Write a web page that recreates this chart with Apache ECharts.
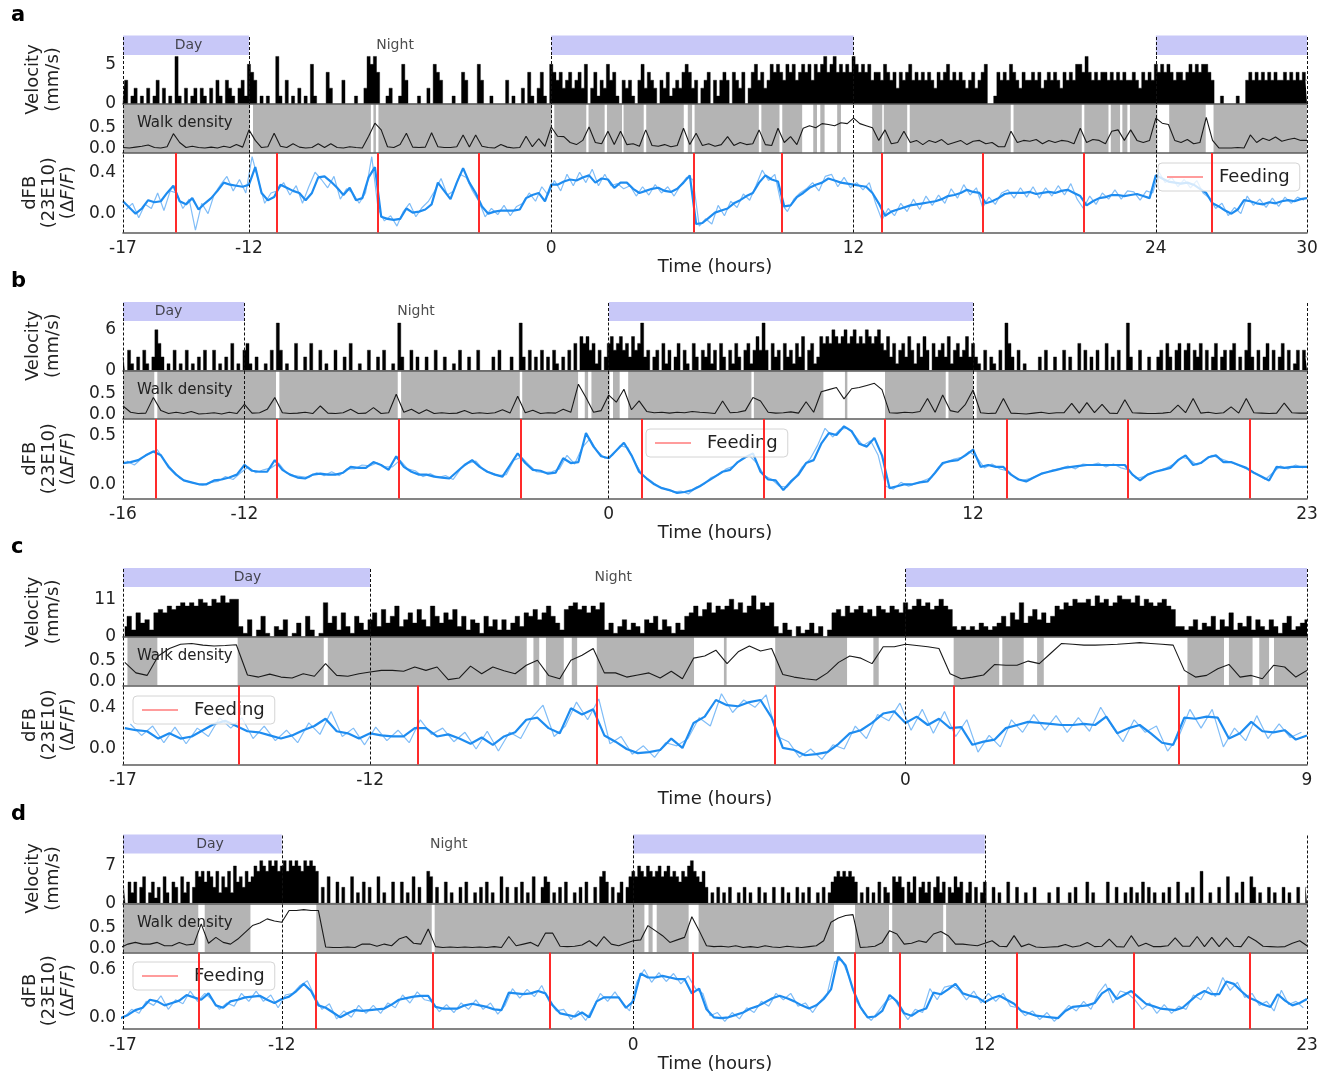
<!DOCTYPE html>
<html>
<head>
<meta charset="utf-8">
<script src="https://cdn.jsdelivr.net/npm/echarts@6/dist/echarts.min.js"></script>
<style>
html,body{margin:0;padding:0;background:#fff}
#chart{width:1327px;height:1074px}
</style>
</head>
<body>
<div id="chart"></div>
<script>
// ---------------- Panel a ----------------
const aTicks = [-17, -12, 0, 12, 24, 30];
const aTickLabels = ['-17', '-12', '0', '12', '24', '30'];
const aDays = [[-17, -12], [0, 12], [24, 30]];
const aPhases = [[-14.4, 'Day'], [-6.2, 'Night']];
const aFeeding = [-14.9, -10.9, -6.88, -2.89, 5.65, 9.13, 13.12, 17.13, 21.14, 26.23];
const aVelTicks = [0, 5];
const aDfbTicks = [0, 0.4];
const aVelSampling = [-17, 0.125];
const aVelocity = [
0,3,0,1,2,0,1,0, 2,0,1,3,0,2,0,1, 0,6,1,0,2,0,1,2, 0,2,1,0,2,0,3,1, 0,3,2,1,0,2,3,1,
5,4,3,0,1,0,1,0, 0,6,1,0,3,0,1,0, 2,0,1,0,5,1,0,0, 0,4,2,0,0,0,3,0, 0,0,1,0,0,2,6,5,
6,4,0,0,1,2,0,0, 1,5,3,0,0,0,1,0, 0,2,0,5,4,3,0,0, 0,1,0,0,4,3,0,0, 0,5,3,0,0,1,0,0,
0,0,3,0,1,0,0,2, 0,4,1,0,2,4,1,0, 5,4,3,4,2,3,4,2, 3,4,2,5,0,2,4,1, 3,2,5,3,4,1,0,3,
2,3,1,0,3,5,2,4, 3,2,0,3,2,4,1,2, 3,2,4,5,4,2,3,0, 2,3,4,0,3,1,3,4, 3,0,4,3,2,4,0,2,
4,5,3,4,2,3,5,4, 5,4,3,5,4,5,3,4, 5,4,5,3,5,4,5,6, 4,5,6,4,5,4,5,4, 6,5,4,5,4,5,3,4,
4,3,5,4,3,4,2,4, 3,4,5,3,4,3,4,3, 4,3,2,4,3,4,5,3, 4,3,4,3,2,3,4,2, 3,4,5,0,0,1,4,3,
4,3,5,4,3,2,4,3, 3,4,3,4,2,3,4,3, 4,3,2,4,3,4,3,5, 5,4,6,4,3,4,3,4, 4,3,4,3,4,3,4,3,
3,4,3,2,4,3,4,3, 5,4,5,4,5,4,3,4, 4,3,4,5,4,5,4,5, 5,4,3,0,0,1,0,0, 0,0,1,0,0,3,4,3,
4,3,4,3,4,3,4,3, 3,4,3,4,3,4,3,4, 3
];
const aWalkSampling = [-17, 0.25];
const aWalk = [
.03,.02,.04,.06, .09,.03,.02,.05, .36,.15,.03,.06, .03,.02,.04,.02, .06,.03,.1,.04,
.45,.2,.03,.05, .37,.06,.03,.12, .04,.02,.03,.12, .03,.12,.03,.02, .05,.03,.02,.3,
.61,.45,.05,.03, .1,.37,.04,.03, .04,.38,.05,.03, .03,.05,.33,.04, .33,.06,.03,.02,
.1,.04,.02,.03, .3,.05,.24,.06, .52,.3,.29,.15, .1,.2,.52,.15, .12,.42,.1,.42,
.1,.12,.06,.45, .08,.06,.1,.05, .08,.49,.1,.37, .08,.12,.06,.1, .29,.08,.15,.1,
.12,.45,.1,.08, .49,.15,.29,.1, .49,.55,.5,.6, .58,.55,.62,.6, .73,.6,.55,.5,
.2,.45,.12,.15, .42,.15,.2,.1, .2,.15,.22,.1, .15,.2,.1,.18, .2,.12,.15,.05,
.05,.42,.15,.2, .18,.22,.12,.2, .15,.2,.18,.12, .49,.15,.22,.2, .12,.42,.45,.2,
.45,.2,.15,.2, .73,.61,.58,.2, .15,.22,.12,.15, .75,.2,.02,.02, .02,.03,.02,.33,
.15,.25,.2,.28, .18,.22,.25,.2, .2
];
const aWalkGaps = [[-11.96,-11.84],[-7.16,-7.06],[-6.96,-6.86],[0.03,0.12],[1.39,1.48],[2.12,2.21],[2.81,2.87],[3.67,3.77],[5.26,5.42],[5.59,5.69],[8.24,8.34],[9.06,9.17],[9.96,10.4],[10.55,10.68],[10.85,11.35],[11.5,12.74],[13.14,13.2],[14.13,14.23],[18.24,18.35],[21.06,21.16],[22.12,22.21],[22.58,22.67],[22.87,22.97],[24.06,24.53],[25.98,26.29]];
const aDfbSampling = [-17, 0.25];
const aDfb = [
.12,.06,.0,.05, .13,.11,.12,.2, .27,.12,.09,.15, .04,.1,.15,.22, .3,.28,.27,.26,
.28,.45,.2,.13, .16,.28,.25,.22, .2,.13,.2,.35, .36,.31,.25,.18, .25,.13,.15,.35,
.45,-.03,-.05,-.06, -.05,.05,.01,.02, .04,.09,.3,.22, .14,.3,.44,.3, .2,.07,.0,.02,
.03,.03,.03,.04, .15,.18,.2,.12, .28,.28,.31,.33, .32,.35,.37,.3, .34,.33,.25,.3,
.3,.24,.2,.22, .24,.25,.22,.21, .24,.3,.37,-.1, -.09,-.04,.01,.03, .05,.1,.13,.17,
.2,.3,.37,.33, .31,.07,.08,.16, .2,.25,.28,.3, .34,.32,.3,.29, .28,.27,.26,.2,
.1,-.02,.02,.04, .06,.08,.09,.1, .11,.12,.14,.17, .18,.2,.23,.21, .2,.1,.12,.15,
.19,.2,.2,.2, .21,.19,.2,.21, .2,.22,.23,.2, .17,.08,.12,.15, .16,.18,.18,.17,
.18,.19,.17,.15, .37,.34,.31,.3, .29,.3,.28,.24, .2,.1,.07,.03, .0,.04,.13,.12,
.1,.09,.11,.1, .12,.13,.12,.14, .15
];
const aRawSampling = [-16.875, 0.25];
const aDfbRaw = [
.04,.1,-.04,.09, .05,.2,.03,.22, .2,.05,.14,-.16, .1,.0,.19,.28, .36,.22,.33,.2,
.55,.32,.1,.2, .22,.3,.18,.27, .1,.26,.4,.33, .25,.36,.14,.24, .2,.1,.2,.55,
.05,-.07,-.02,-.12, .02,.1,-.03,.06, .12,.22,.34,.18, .22,.38,.35,.22, .12,-.03,.05,-.01,
.08,-.02,.07,.1, .2,.12,.26,.18, .32,.22,.38,.27, .4,.3,.43,.27, .38,.27,.29,.24,
.27,.17,.26,.18, .28,.2,.26,.17, .27,.35,.33,-.12, -.05,-.1,.08,-.02, .12,.06,.19,.13,
.27,.42,.32,.38, .1,.02,.14,.2, .24,.3,.22,.36, .38,.26,.35,.25, .3,.23,.3,.1,
-.06,.05,-.02,.1, .02,.14,.04,.17, .08,.18,.1,.24, .15,.28,.18,.25, .06,.16,.09,.2,
.23,.15,.25,.16, .26,.15,.25,.17, .27,.18,.29,.14, .05,.17,.09,.2, .14,.23,.14,.22,
.21,.13,.22,.2, .4,.3,.35,.26, .33,.25,.32,.2, .15,.05,.1,-.02, .06,.0,.17,.08,
.14,.06,.15,.07, .16,.1,.16,.13
];

// ---------------- Panel b ----------------
const bTicks = [-16, -12, 0, 12, 23];
const bTickLabels = ['-16', '-12', '0', '12', '23'];
const bDays = [[-16, -12], [0, 12]];
const bPhases = [[-14.5, 'Day'], [-6.35, 'Night']];
const bFeeding = [-14.91, -10.92, -6.91, -2.91, 1.1, 5.09, 9.1, 13.1, 17.11, 21.11];
const bVelTicks = [0, 6];
const bDfbTicks = [0, 0.5];
const bVelSampling = [-16, 0.1];
const bVelocity = [
2,0,3,1,0,2,0,3,1,0, 2,6,4,2,0,1,0,3,0,1, 0,3,0,1,0,2,0,3,0,0, 3,0,1,0,2,0,4,0,1,0,
3,4,1,0,2,0,0,1,0,3, 0,7,3,0,1,0,0,4,0,0, 2,0,4,0,0,3,0,1,0,0, 3,0,0,2,0,4,0,0,1,0,
0,3,0,0,2,0,3,0,0,1, 0,7,2,0,0,3,0,2,0,0, 2,0,0,3,0,0,2,0,0,1, 0,3,0,0,2,0,0,3,0,0,
0,0,2,0,3,0,0,0,2,0, 0,7,2,0,3,0,2,0,3,0, 2,0,3,1,0,2,0,3,0,4, 0,5,4,5,3,4,1,3,0,2,
4,5,3,4,5,3,4,2,5,3, 4,7,2,3,0,2,3,0,4,1, 3,0,2,4,0,3,1,0,4,2, 0,3,2,4,1,3,0,4,2,0,
3,1,4,2,0,3,4,1,3,5, 3,7,3,0,4,2,3,0,4,2, 3,1,4,2,5,0,3,4,1,2, 5,4,5,4,6,5,4,5,6,4,
5,6,4,5,4,6,5,4,5,6, 4,3,5,2,4,1,3,4,2,5, 3,1,4,2,5,3,0,4,2,3, 4,2,5,1,3,4,2,3,5,2,
4,2,1,0,3,0,2,1,0,3, 0,7,4,2,0,3,0,1,0,0, 0,0,2,0,3,0,0,2,0,0, 3,0,2,0,0,4,0,3,0,2,
0,3,0,0,4,0,2,0,3,0, 0,7,2,0,0,3,0,0,2,0, 0,2,3,0,4,2,0,3,4,0, 3,4,0,3,2,4,0,3,0,2,
4,0,2,3,0,3,4,0,2,0, 3,7,2,0,3,0,2,4,0,3, 0,2,4,0,3,0,1,3,0,3, 2
];
const bWalkSampling = [-16, 0.25];
const bWalk = [
.21,.06,.03,.04, .41,.1,.03,.06, .03,.08,.02,.03, .05,.02,.06,.03,
.25,.04,.05,.13, .41,.05,.03,.04, .06,.03,.21,.04, .03,.05,.13,.03,
.04,.17,.03,.05, .49,.06,.13,.03, .12,.03,.05,.03, .04,.1,.03,.05,
.03,.05,.12,.04, .44,.05,.11,.03, .05,.04,.13,.06, .73,.41,.06,.1,
.47,.3,.61,.12, .33,.08,.05,.06, .04,.06,.05,.08, .06,.05,.03,.33,
.05,.06,.1,.41, .33,.06,.04,.05, .07,.04,.31,.06, .55,.6,.65,.38,
.62,.65,.7,.75, .6,.05,.04,.06, .05,.08,.39,.06, .47,.1,.06,.25,
.59,.05,.03,.04, .39,.04,.03,.02, .04,.06,.03,.05, .05,.27,.04,.29,
.05,.25,.04,.03, .36,.05,.04,.03, .03,.04,.06,.23, .05,.39,.04,.06,
.03,.05,.19,.04, .39,.05,.04,.03, .04,.28,.05,.04, .04
];
const bWalkGaps = [[-14.97,-14.87],[-10.96,-10.85],[-6.95,-6.84],[-2.93,-2.85],[-1.01,-0.79],[-0.68,-0.57],[0.03,0.14],[0.36,0.64],[4.7,4.78],[7.07,7.78],[7.86,9.1],[11.1,11.19],[12.01,12.12]];
const bDfbSampling = [-16, 0.25];
const bDfb = [
.22,.23,.25,.3, .34,.3,.18,.1, .04,.02,.0,.0, .04,.05,.07,.1,
.2,.14,.13,.13, .25,.15,.1,.07, .06,.1,.11,.1, .1,.12,.18,.17,
.17,.23,.2,.15, .29,.18,.13,.1, .1,.08,.07,.06, .13,.2,.25,.18,
.13,.1,.08,.2, .32,.22,.15,.14, .11,.12,.27,.22, .23,.53,.39,.29,
.27,.35,.43,.3, .13,.06,.0,-.04, -.06,-.09,-.08,-.06, -.02,.03,.08,.13,
.15,.23,.28,.32, .13,.05,.04,-.06, .03,.1,.22,.25, .42,.53,.51,.6,
.55,.42,.39,.48, .3,-.04,-.02,.0, .0,.02,.03,.12, .22,.24,.25,.3,
.36,.18,.2,.18, .18,.1,.05,.03, .07,.11,.13,.15, .17,.18,.19,.2,
.2,.2,.2,.2, .2,.1,.04,.1, .13,.15,.17,.25, .3,.2,.22,.28,
.3,.23,.23,.2, .17,.12,.08,.04, .18,.17,.18,.18, .18
];
const bRawSampling = [-15.875, 0.25];
const bDfbRaw = [
.24,.2,.27,.32, .36,.24,.15,.06, .03,.01,-.01,.02, .03,.08,.05,.12,
.18,.12,.15,.17, .22,.12,.09,.08, .07,.12,.09,.13, .09,.16,.16,.2,
.19,.22,.18,.18, .25,.16,.14,.08, .11,.07,.09,.05, .16,.22,.24,.15,
.12,.09,.1,.25, .28,.2,.13,.12, .13,.16,.3,.21, .38,.47,.34,.27,
.3,.4,.38,.22, .09,.04,-.02,-.05, -.08,-.07,-.1,-.03, .0,.07,.1,.16,
.19,.26,.3,.22, .09,.05,-.02,-.03, .06,.18,.26,.4, .58,.49,.57,.58,
.5,.4,.45,.3, -.02,-.05,.02,-.02, .01,.04,.07,.18, .23,.26,.28,.34,
.28,.17,.21,.16, .14,.07,.04,.06, .09,.12,.15,.16, .19,.16,.21,.2,
.22,.18,.21,.17, .15,.06,.08,.12, .14,.17,.21,.28, .26,.2,.25,.3,
.27,.24,.21,.18, .14,.1,.05,.12, .19,.16,.2,.17
];

// ---------------- Panel c ----------------
const cTicks = [-17.54, -12, 0, 9];
const cTickLabels = ['-17', '-12', '0', '9'];
const cDays = [[-17.54, -12], [0, 9]];
const cPhases = [[-14.75, 'Day'], [-6.55, 'Night']];
const cFeeding = [-14.94, -10.94, -6.93, -2.92, 1.08, 6.12];
const cVelTicks = [0, 11];
const cDfbTicks = [0, 0.4];
const cVelSampling = [-17.5, 0.1];
const cVelocity = [
3,6,2,7,4,
5,2,7,8,7,9,8,9,10,9, 10,9,11,10,9,11,10,12,10,11, 11,3,1,5,0,2,6,1,0,3, 2,5,0,1,4,0,6,2,0,1,
10,4,6,2,7,3,1,6,4,2, 5,7,3,8,4,6,9,3,5,7, 4,8,5,3,9,6,4,7,5,8, 3,6,2,5,4,1,6,3,5,2,
5,2,4,6,3,7,6,8,5,7, 9,6,4,2,8,9,10,8,9,7, 9,8,10,2,4,1,3,5,2,4, 3,1,5,4,6,2,5,3,1,4,
2,6,7,9,6,8,10,7,9,8, 9,11,8,10,7,9,12,8,10,9, 10,3,1,4,2,0,3,1,2,4, 1,3,0,2,7,8,6,9,7,8,
9,7,8,6,9,8,7,9,8,7, 10,8,9,11,9,10,8,9,11,9, 8,3,2,3,2,3,2,4,3,2, 3,4,6,3,7,5,10,4,6,8,
5,7,4,6,9,8,10,9,11,10, 10,11,9,12,10,11,9,10,12,11, 11,10,12,9,11,10,9,10,11,9, 8,3,3,2,3,5,2,4,3,6,
2,5,3,7,2,4,3,6,2,5, 3,2,5,3,1,4,6,2,3,4, 5
];
const cWalkSampling = [-17.5, 0.25];
const cWalk = [
.45,.2,
.14,.6,.78,.88, .9,.86,.84,.85, .87,.15,.1,.17, .1,.08,.18,.12,
.42,.14,.12,.18, .22,.26,.26,.24, .34,.26,.34,.04, .08,.36,.18,.34,
.25,.18,.38,.5, .14,.06,.5,.62, .78,.2,.2,.1, .15,.2,.08,.24,
.06,.55,.6,.74, .42,.7,.84,.72, .78,.16,.1,.06, .03,.2,.45,.6,
.55,.42,.82,.82, .88,.85,.82,.78, .18,.06,.1,.15, .4,.38,.38,.48,
.42,.66,.9,.88, .86,.86,.87,.88, .9,.92,.9,.88, .86,.26,.1,.14,
.3,.4,.1,.14, .06,.38,.34,.1, .26
];
const cWalkGaps = [[-17.54,-17.44],[-16.77,-14.97],[-13.04,-12.95],[-8.49,-8.34],[-8.21,-8.06],[-7.66,-7.48],[-7.36,-6.92],[-4.74,-4.07],[-4.01,-2.92],[-1.31,-0.72],[-0.6,1.08],[2.1,2.17],[2.65,2.95],[3.1,6.32],[7.14,7.25],[7.78,7.93],[8.15,8.26]];
const cDfbSampling = [-17.5, 0.25];
const cDfb = [
.2,.18,
.17,.1,.15,.1, .12,.18,.24,.27, .22,.17,.16,.13, .1,.13,.18,.22,
.29,.17,.15,.1, .15,.13,.12,.12, .2,.2,.12,.14, .1,.05,.11,.04,
.12,.16,.28,.3, .2,.15,.39,.33, .38,.13,.07,.0, -.04,-.03,-.01,.1,
.01,.25,.31,.47, .42,.41,.45,.47, .3,.01,-.01,-.06, -.05,-.03,.05,.15,
.18,.25,.34,.36, .25,.31,.23,.29, .2,.21,.04,.07, .09,.2,.23,.26,
.25,.24,.23,.23, .24,.23,.31,.15, .2,.23,.15,.06, .04,.3,.29,.31,
.3,.1,.15,.26, .17,.16,.18,.09, .13
];
const cRawSampling = [-17.375, 0.25];
const cDfbRaw = [
.24,.13,
.22,.06,.21,.05, .2,.12,.3,.2, .3,.1,.22,.08, .18,.06,.25,.14,
.36,.12,.2,.04, .21,.08,.18,.06, .28,.14,.2,.07, .16,.0,.17,-.02,
.16,.1,.3,.42, .12,.22,.45,.28, .48,.05,.12,-.05, .03,-.08,.06,.03,
.1,.3,.22,.53, .35,.47,.4,.52, .12,.07,-.08,.0, -.1,.04,.0,.22,
.1,.33,.27,.44, .18,.38,.15,.36, .12,.28,-.03,.13, .02,.28,.16,.33,
.18,.32,.16,.3, .17,.4,.22,.07, .28,.16,.22,-.02, .12,.38,.2,.38,
.02,.2,.08,.32, .1,.24,.11,.16
];

// ---------------- Panel d ----------------
const dTicks = [-17.42, -12, 0, 12, 23];
const dTickLabels = ['-17', '-12', '0', '12', '23'];
const dDays = [[-17.42, -12], [0, 12]];
const dPhases = [[-14.45, 'Day'], [-6.3, 'Night']];
const dFeeding = [-14.82, -10.84, -6.84, -2.86, 2.04, 7.55, 9.09, 13.08, 17.07, 21.06];
const dVelTicks = [0, 7];
const dDfbTicks = [0, 0.6];
const dVelSampling = [-17.4, 0.1];
const dVelocity = [
3,0,4,2,
4,0,3,5,0,2,4,1,3,0, 5,2,0,4,3,0,5,2,4,0, 3,6,5,6,4,6,5,3,6,2, 5,3,6,2,7,4,5,3,6,4,
5,7,6,8,7,6,8,7,8,6, 7,8,6,8,7,8,7,6,8,7, 8,7,6,0,3,0,5,0,0,4, 0,3,0,0,5,0,2,0,4,0,
3,0,0,5,0,2,0,0,4,0, 0,4,0,2,0,5,0,3,0,0, 6,5,0,3,0,0,4,0,2,0, 0,3,0,4,0,0,2,0,3,0,
4,0,2,0,0,5,0,3,0,0, 3,0,4,0,2,0,5,0,0,3, 5,4,0,2,0,3,0,4,0,0, 2,0,3,0,4,0,0,3,0,5,
6,4,0,3,0,2,4,0,3,5, 6,5,7,6,5,7,6,5,6,7, 5,6,7,5,6,5,4,6,5,7, 8,6,5,4,6,3,0,2,0,3,
0,2,0,3,0,0,2,0,3,0, 2,0,0,3,0,2,0,0,3,0, 0,3,0,2,0,0,3,0,2,0, 3,0,0,2,0,3,0,2,4,5,
6,5,6,5,6,5,4,0,2,0, 3,0,2,0,4,0,3,2,0,5, 4,5,3,0,4,2,5,0,3,4, 2,4,0,3,5,2,4,0,3,2,
5,3,4,0,2,4,0,3,0,2, 4,0,0,3,0,2,0,0,4,0, 0,3,0,0,2,0,0,3,0,0, 0,0,2,0,0,3,0,0,0,2,
0,3,0,0,0,4,0,2,0,0, 0,0,4,0,0,3,0,0,2,0, 3,0,2,0,4,0,3,0,2,0, 0,2,0,3,0,0,4,0,0,2,
0,3,0,0,6,0,0,2,0,0, 3,0,0,5,0,0,2,0,4,0, 0,5,3,0,2,0,0,3,0,2, 0,0,3,0,2,0,0,3,0,0, 3
];
const dWalkSampling = [-17.5, 0.25];
const dWalk = [
.02,.1,
.14,.1,.1,.14, .06,.06,.14,.08, .1,.58,.12,.26, .14,.1,.22,.38,
.54,.6,.7,.65, .62,.9,.9,.92, .9,.9,.03,.02, .02,.03,.02,.1,
.1,.05,.1,.06, .22,.28,.12,.1, .46,.04,.02,.03, .02,.03,.02,.03,
.02,.04,.02,.28, .06,.1,.14,.05, .36,.36,.05,.04, .05,.08,.18,.05,
.28,.1,.06,.12, .18,.2,.54,.42, .3,.14,.2,.26, .75,.42,.06,.04,
.05,.03,.06,.02, .04,.02,.06,.03, .02,.05,.03,.02, .04,.06,.18,.62,
.72,.78,.8,.02, .03,.05,.14,.42, .34,.1,.12,.18, .14,.34,.4,.3,
.1,.1,.08,.06, .12,.18,.05,.04, .3,.04,.1,.03, .02,.03,.04,.09,
.03,.06,.14,.04, .05,.22,.04,.03, .3,.05,.12,.04, .04,.06,.25,.05,
.05,.28,.04,.26, .04,.25,.05,.04, .28,.18,.05,.04, .03,.04,.12,.18, .06
];
const dWalkGaps = [[-14.85,-14.63],[-13.07,-10.82],[-6.88,-6.78],[0.38,0.52],[0.66,0.8],[1.89,2.23],[6.85,7.57],[8.73,8.84],[10.58,10.68]];
const dDfbSampling = [-17.5, 0.25];
const dDfb = [
-.01,.03,
.09,.12,.22,.2, .15,.18,.21,.28, .25,.22,.3,.15, .12,.2,.22,.25,
.26,.27,.22,.18, .23,.26,.33,.42, .33,.15,.12,.06, .0,.05,.09,.08,
.09,.1,.11,.16, .22,.24,.26,.27, .27,.13,.11,.11, .11,.15,.17,.15,
.13,.1,.09,.31, .3,.29,.3,.33, .3,.15,.05,.03, .01,.06,.0,.2,
.25,.25,.25,.12, .2,.55,.5,.5, .52,.5,.48,.48, .3,.36,.1,.0,
-.01,.0,.03,.06, .11,.14,.19,.24, .27,.24,.2,.15, .11,.15,.23,.35,
.76,.65,.35,.13, .0,.01,.08,.28, .2,.05,.02,.08, .11,.31,.29,.35,
.42,.3,.27,.25, .19,.24,.27,.22, .17,.08,.05,.02, .01,.0,-.01,.08,
.13,.14,.15,.18, .3,.36,.23,.28, .33,.25,.17,.14, .11,.1,.09,.12,
.2,.28,.33,.29, .29,.45,.42,.33, .25,.21,.16,.13, .29,.21,.15,.18, .23
];
const dRawSampling = [-17.375, 0.25];
const dDfbRaw = [
.0,.1,
.05,.2,.15,.27, .1,.22,.17,.33, .2,.3,.22,.1, .18,.14,.3,.2,
.33,.2,.28,.12, .28,.3,.4,.46, .26,.1,.17,-.02, .08,.0,.15,.05,
.15,.05,.18,.12, .28,.18,.32,.22, .2,.07,.16,.06, .18,.1,.22,.1,
.18,.04,.15,.36, .24,.35,.26,.4, .2,.08,.1,-.03, .08,-.04,.12,.3,
.2,.32,.18,.08, .45,.6,.44,.56, .45,.55,.42,.52, .36,.3,.02,.06,
-.05,.06,-.02,.12, .06,.2,.14,.3, .22,.3,.14,.18, .06,.2,.3,.7,
.72,.5,.2,.05, -.04,.08,.2,.25, .1,-.03,.1,.06, .36,.22,.38,.4,
.34,.22,.33,.18, .3,.2,.3,.14, .12,.02,.08,-.03, .06,-.05,.05,.15,
.08,.2,.1,.3, .42,.18,.33,.3, .22,.1,.18,.05, .16,.05,.14,.1,
.28,.22,.38,.26, .5,.34,.44,.25, .3,.15,.2,.08, .34,.16,.2,.12
];

// ---------------- Assembly ----------------
const FONT = 'DejaVu Sans';
const INK = '#222';
const AXIS = '#5c5c5c';

const panels = [
  {id:'a', ticks:aTicks, labels:aTickLabels, days:aDays, phases:aPhases, feeding:aFeeding, velTicks:aVelTicks, dfbTicks:aDfbTicks,
   vel:[aVelocity, aVelSampling], walk:[aWalk, aWalkSampling], gaps:aWalkGaps, dfb:[aDfb, aDfbSampling], raw:[aDfbRaw, aRawSampling]},
  {id:'b', ticks:bTicks, labels:bTickLabels, days:bDays, phases:bPhases, feeding:bFeeding, velTicks:bVelTicks, dfbTicks:bDfbTicks,
   vel:[bVelocity, bVelSampling], walk:[bWalk, bWalkSampling], gaps:bWalkGaps, dfb:[bDfb, bDfbSampling], raw:[bDfbRaw, bRawSampling]},
  {id:'c', ticks:cTicks, labels:cTickLabels, days:cDays, phases:cPhases, feeding:cFeeding, velTicks:cVelTicks, dfbTicks:cDfbTicks,
   vel:[cVelocity, cVelSampling], walk:[cWalk, cWalkSampling], gaps:cWalkGaps, dfb:[cDfb, cDfbSampling], raw:[cDfbRaw, cRawSampling]},
  {id:'d', ticks:dTicks, labels:dTickLabels, days:dDays, phases:dPhases, feeding:dFeeding, velTicks:dVelTicks, dfbTicks:dDfbTicks,
   vel:[dVelocity, dVelSampling], walk:[dWalk, dWalkSampling], gaps:dWalkGaps, dfb:[dDfb, dDfbSampling], raw:[dDfbRaw, dRawSampling]}
];

// vertical frame of each panel: day strip top, strip bottom, velocity zero, walk bottom, dFB bottom
const frames = [
  [35.5, 55, 104, 153, 232.5],
  [302, 321, 370.5, 419, 498.5],
  [568, 587, 636.7, 685.5, 764.5],
  [834.5, 853.5, 903.3, 952.5, 1031]
];
// value ranges of the three stacked axes
const ranges = [
  {vel:6.18, walk:[-0.1, 1.067], dfb:[-0.182, 0.586]},
  {vel:7.3,  walk:[-0.1, 1.055], dfb:[-0.147, 0.676]},
  {vel:14.6, walk:[-0.1, 1.06],  dfb:[-0.149, 0.609]},
  {vel:9.34, walk:[-0.1, 1.07],  dfb:[-0.147, 0.814]}
];
const legendPos = [[1158, 163], [646, 429], [133, 696], [133, 962]];

const toPoints = (vals, s) => vals.map((v, i) => [+(s[0] + i * s[1]).toFixed(4), v]);

const dashed = ticks => ({
  silent: true, symbol: ['none', 'none'], label: {show: false}, emphasis: {disabled: true},
  lineStyle: {color: '#111', width: 1, type: [3, 2]},
  data: ticks.map(x => ({xAxis: x}))
});

const grids = [], xAxes = [], yAxes = [], series = [], legends = [], graphics = [];

panels.forEach((p, k) => {
  const f = frames[k], r = ranges[k];
  const g = k * 4;
  const x0 = p.ticks[0], x1 = p.ticks[p.ticks.length - 1];
  for (let j = 0; j < 4; j++) {
    grids.push({
      left: 123, right: 20, top: f[j], height: f[j + 1] - f[j],
      show: j === 2, backgroundColor: j === 2 ? '#b4b4b4' : 'transparent', borderWidth: 0
    });
  }
  const baseX = {type: 'value', min: x0, max: x1, splitLine: {show: false}, axisTick: {show: false}};
  xAxes.push(Object.assign({gridIndex: g, show: false}, baseX));
  [1, 2].forEach(j => xAxes.push(Object.assign({
    gridIndex: g + j, z: 4,
    axisLine: {show: true, onZero: false, lineStyle: {color: AXIS, width: 1.6}},
    axisLabel: {show: false}
  }, baseX)));
  xAxes.push(Object.assign({
    gridIndex: g + 3, z: 4,
    axisLine: {show: true, onZero: false, lineStyle: {color: AXIS, width: 1.6}},
    axisLabel: {
      customValues: p.ticks, fontSize: 17, color: INK, margin: 8, fontFamily: FONT,
      formatter: v => { const i = p.ticks.findIndex(t => Math.abs(t - v) < 1e-6); return i >= 0 ? p.labels[i] : ''; }
    },
    name: 'Time (hours)', nameLocation: 'middle', nameGap: 26,
    nameTextStyle: {fontSize: 18, color: INK, fontFamily: FONT}
  }, baseX));

  const baseY = {type: 'value', axisLine: {show: false}, axisTick: {show: false}, splitLine: {show: false}};
  const lab = (vals, fmt) => ({customValues: vals, formatter: fmt, fontSize: 17, color: INK, margin: 7, fontFamily: FONT});
  yAxes.push(Object.assign({gridIndex: g, min: 0, max: 1, show: false}, baseY));
  yAxes.push(Object.assign({
    gridIndex: g + 1, min: 0, max: r.vel, axisLabel: lab(p.velTicks, v => String(v)),
    name: 'Velocity\n(mm/s)', nameLocation: 'middle', nameRotate: 90, nameGap: 60,
    nameTextStyle: {fontSize: 18, lineHeight: 20, color: INK, fontFamily: FONT}
  }, baseY));
  yAxes.push(Object.assign({
    gridIndex: g + 2, min: r.walk[0], max: r.walk[1], axisLabel: lab([0, 0.5], v => v.toFixed(1))
  }, baseY));
  yAxes.push(Object.assign({
    gridIndex: g + 3, min: r.dfb[0], max: r.dfb[1], axisLabel: lab(p.dfbTicks, v => v.toFixed(1)),
    name: 'dFB\n(23E10)\n(Δ{i|F}/{i|F})', nameLocation: 'middle', nameRotate: 90, nameGap: 41,
    nameTextStyle: {fontSize: 18, lineHeight: 19, color: INK, fontFamily: FONT,
      rich: {i: {fontStyle: 'italic', fontSize: 18, color: INK, fontFamily: FONT}}}
  }, baseY));

  const ax = i => ({xAxisIndex: g + i, yAxisIndex: g + i});

  // day strip and phase names
  series.push(Object.assign({
    type: 'line', data: [], silent: true,
    markArea: {silent: true, itemStyle: {color: '#c8c8f8'}, data: p.days.map(d => [{xAxis: d[0]}, {xAxis: d[1]}])},
    markLine: dashed(p.ticks)
  }, ax(0)));
  series.push(Object.assign({
    type: 'scatter', silent: true, symbolSize: 0,
    data: p.phases.map(q => [q[0], 0.5, q[1]]),
    label: {show: true, position: 'inside', formatter: q => q.data[2], fontSize: 14, color: INK, fontFamily: FONT}
  }, ax(0)));

  // velocity trace: each sample held over its interval and filled down to zero
  series.push(Object.assign({
    type: 'line', silent: true, symbol: 'none', step: 'middle', data: toPoints(p.vel[0], p.vel[1]),
    lineStyle: {color: '#000', width: 0.4}, areaStyle: {color: '#000', opacity: 1},
    markLine: dashed(p.ticks)
  }, ax(1)));

  // walk density with active stretches
  series.push(Object.assign({
    type: 'line', silent: true, symbol: 'none', data: toPoints(p.walk[0], p.walk[1]),
    lineStyle: {color: '#1a1a1a', width: 1.1},
    markArea: {silent: true, itemStyle: {color: '#ffffff'}, data: p.gaps.map(d => [{xAxis: d[0]}, {xAxis: d[1]}])},
    markLine: dashed(p.ticks)
  }, ax(2)));

  // dFB activity
  series.push(Object.assign({
    type: 'line', silent: true, symbol: 'none', data: toPoints(p.raw[0], p.raw[1]),
    lineStyle: {color: '#80bdf7', width: 1.2}, z: 2
  }, ax(3)));
  series.push(Object.assign({
    type: 'line', silent: true, symbol: 'none', data: toPoints(p.dfb[0], p.dfb[1]),
    lineStyle: {color: '#1e8cf0', width: 2.2}, z: 3,
    markLine: dashed(p.ticks)
  }, ax(3)));
  series.push(Object.assign({
    name: 'Feeding', type: 'line', data: [], silent: true,
    itemStyle: {color: '#ff2a2a'}, lineStyle: {color: '#ff2a2a'},
    markLine: {
      silent: true, symbol: ['none', 'none'], label: {show: false}, emphasis: {disabled: true},
      lineStyle: {color: '#ff2a2a', width: 2, type: 'solid'},
      data: p.feeding.map(x => ({xAxis: x}))
    }
  }, ax(3)));

  legends.push({
    data: [{name: 'Feeding', icon: 'rect'}], left: legendPos[k][0], top: legendPos[k][1],
    itemWidth: 36, itemHeight: 2, itemStyle: {color: '#ff9c9c'}, selectedMode: false,
    textStyle: {fontSize: 18, color: INK, fontFamily: FONT, padding: [0, 0, 0, 11]},
    backgroundColor: 'rgba(255,255,255,0.8)', borderColor: '#d4d4d4', borderWidth: 1, borderRadius: 4,
    padding: [5, 10, 5, 9]
  });

  graphics.push({type: 'text', x: 11, y: f[0] - 20, z: 10,
    style: {text: p.id, font: 'bold 21px "DejaVu Sans"', fill: '#000', verticalAlign: 'middle'}});
  graphics.push({type: 'text', x: 137, y: f[2] + 19.5, z: 10,
    style: {text: 'Walk density', font: '15px "DejaVu Sans"', fill: INK, verticalAlign: 'middle'}});
});

const chart = echarts.init(document.getElementById('chart'), null, {renderer: 'canvas', width: 1327, height: 1074});
chart.setOption({
  animation: false,
  backgroundColor: '#fff',
  textStyle: {fontFamily: FONT},
  grid: grids, xAxis: xAxes, yAxis: yAxes, series, legend: legends, graphic: graphics
});
</script>
</body>
</html>
